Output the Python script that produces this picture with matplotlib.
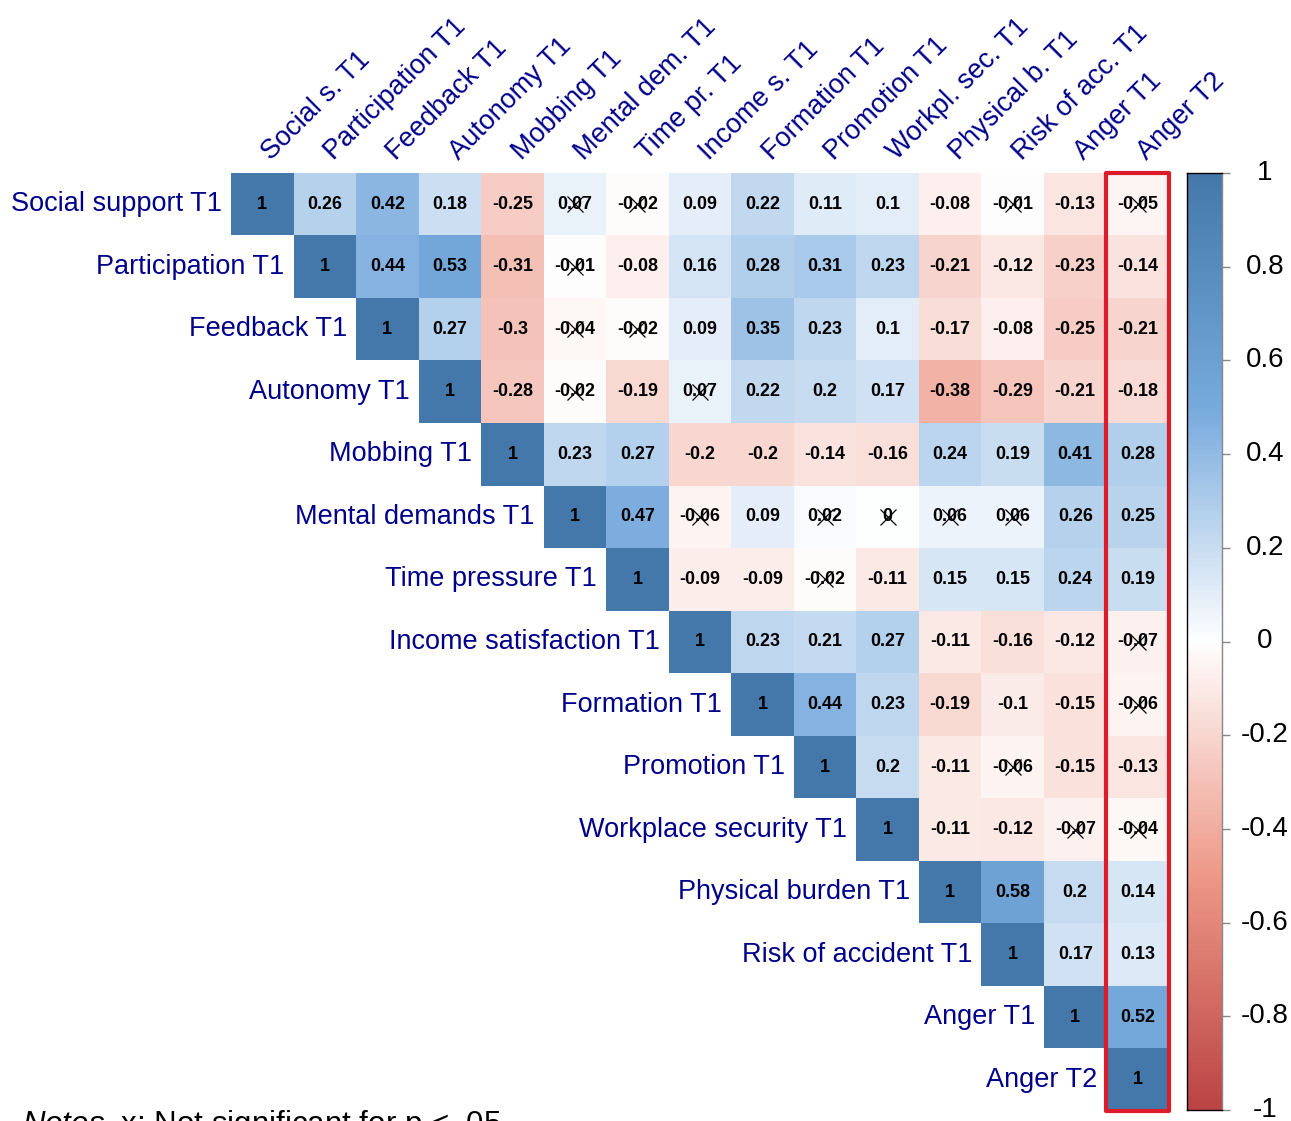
import numpy as np
import matplotlib
matplotlib.use("Agg")
import matplotlib.pyplot as plt
from matplotlib.colors import LinearSegmentedColormap
from matplotlib.patches import Rectangle
import matplotlib.transforms as mtransforms

plt.rcParams['font.family'] = ['Liberation Sans', 'DejaVu Sans']
plt.rcParams['mathtext.fontset'] = 'custom'
plt.rcParams['mathtext.it'] = 'Liberation Sans:italic'
plt.rcParams['mathtext.rm'] = 'Liberation Sans'

# ---------------- data ----------------
row_labels = ["Social support T1", "Participation T1", "Feedback T1", "Autonomy T1",
              "Mobbing T1", "Mental demands T1", "Time pressure T1",
              "Income satisfaction T1", "Formation T1", "Promotion T1",
              "Workplace security T1", "Physical burden T1", "Risk of accident T1",
              "Anger T1", "Anger T2"]
col_labels = ["Social s. T1", "Participation T1", "Feedback T1", "Autonomy T1",
              "Mobbing T1", "Mental dem. T1", "Time pr. T1", "Income s. T1",
              "Formation T1", "Promotion T1", "Workpl. sec. T1", "Physical b. T1",
              "Risk of acc. T1", "Anger T1", "Anger T2"]

# upper triangle rows (starting at the diagonal)
r_social = [1, 0.26, 0.42, 0.18, -0.25, 0.07, -0.02, 0.09, 0.22, 0.11, 0.1, -0.08, -0.01, -0.13, -0.05]
r_particip = [1, 0.44, 0.53, -0.31, -0.01, -0.08, 0.16, 0.28, 0.31, 0.23, -0.21, -0.12, -0.23, -0.14]
r_feedback = [1, 0.27, -0.3, -0.04, -0.02, 0.09, 0.35, 0.23, 0.1, -0.17, -0.08, -0.25, -0.21]
r_autonomy = [1, -0.28, -0.02, -0.19, 0.07, 0.22, 0.2, 0.17, -0.38, -0.29, -0.21, -0.18]
r_mobbing = [1, 0.23, 0.27, -0.2, -0.2, -0.14, -0.16, 0.24, 0.19, 0.41, 0.28]
r_mental = [1, 0.47, -0.06, 0.09, 0.02, 0, 0.06, 0.06, 0.26, 0.25]
r_time = [1, -0.09, -0.09, -0.02, -0.11, 0.15, 0.15, 0.24, 0.19]
r_income = [1, 0.23, 0.21, 0.27, -0.11, -0.16, -0.12, -0.07]
r_formation = [1, 0.44, 0.23, -0.19, -0.1, -0.15, -0.06]
r_promotion = [1, 0.2, -0.11, -0.06, -0.15, -0.13]
r_workpl = [1, -0.11, -0.12, -0.07, -0.04]
r_physical = [1, 0.58, 0.2, 0.14]
r_risk = [1, 0.17, 0.13]
r_anger1 = [1, 0.52]
r_anger2 = [1]
rows = [r_social, r_particip, r_feedback, r_autonomy, r_mobbing, r_mental, r_time,
        r_income, r_formation, r_promotion, r_workpl, r_physical, r_risk, r_anger1, r_anger2]

# non-significant cells (row, col)
not_significant = [(0, 5), (0, 6), (0, 12), (0, 14),
                   (1, 5), (2, 5), (2, 6), (3, 5), (3, 7),
                   (5, 7), (5, 9), (5, 10), (5, 11), (5, 12),
                   (6, 9), (7, 14), (8, 14), (9, 12), (10, 13), (10, 14)]

cbar_ticks = [1, 0.8, 0.6, 0.4, 0.2, 0, -0.2, -0.4, -0.6, -0.8, -1]

# ---------------- build ----------------
n = len(row_labels)
M = np.full((n, n), np.nan)
for i, r in enumerate(rows):
    M[i, i:i + len(r)] = r

cmap = LinearSegmentedColormap.from_list(
    "corr", ["#BB4444", "#EE9988", "#FFFFFF", "#77AADD", "#4477AA"], N=200)
cmap.set_bad((1, 1, 1, 0))

W, H = 1291, 1121
fig = plt.figure(figsize=(W / 100, H / 100), dpi=100)


def px_axes(x0, y0, x1, y1):
    return fig.add_axes([x0 / W, 1 - y1 / H, (x1 - x0) / W, (y1 - y0) / H])


gx0, gy0, gx1, gy1 = 231, 173, 1169, 1111
ax = px_axes(gx0, gy0, gx1, gy1)
cell = (gx1 - gx0) / n
ax.imshow(np.ma.masked_invalid(M), cmap=cmap, vmin=-1, vmax=1,
          extent=(0, n, n, 0), interpolation="nearest", aspect="auto")
ax.set_xlim(0, n)
ax.set_ylim(n, 0)
ax.axis("off")

label_color = "#00008B"
for i in range(n):
    for j in range(i, n):
        v = M[i, j]
        ax.text(j + 0.5, i + 0.5, f"{v:g}", ha="center", va="center",
                fontsize=12.9, fontweight="bold", color="black")
for (i, j) in not_significant:
    ax.plot(j + 0.5, i + 0.5, marker="x", markersize=11, mew=0.9,
            color="black", linestyle="none")

for i, lab in enumerate(row_labels):
    ax.text(i - 9 / cell, i + 0.5, lab, ha="right", va="center",
            fontsize=19.5, color=label_color, clip_on=False)
for j, lab in enumerate(col_labels):
    ax.text(j + 0.5 + 9 / cell, -12 / cell, lab, ha="left", va="baseline",
            rotation=45, rotation_mode="anchor",
            fontsize=19.5, color=label_color, clip_on=False)

# highlight box around last column
ax.add_patch(Rectangle((n - 1, 0), 1, n, fill=False, edgecolor="#DD1C2B",
                       linewidth=3, clip_on=False, joinstyle="round"))

# ---------------- colorbar ----------------
cax = px_axes(1187, 173, 1222, 1110)
grad = np.linspace(-1, 1, 400).reshape(-1, 1)
cax.imshow(grad, cmap=cmap, vmin=-1, vmax=1, extent=(0, 1, -1, 1),
           origin="lower", aspect="auto")
cax.set_xlim(0, 1)
cax.set_ylim(-1, 1)
cax.set_xticks([])
cax.yaxis.tick_right()
cax.set_yticks(cbar_ticks)
cax.set_yticklabels([])
cax.tick_params(axis="y", length=6, width=1, color="#888888")
for s in cax.spines.values():
    s.set_linewidth(1)
    s.set_color("black")
cax.spines["right"].set_color("#888888")
tr = mtransforms.blended_transform_factory(cax.transAxes, cax.transData)
for t in cbar_ticks:
    cax.text((1265 - 1187) / 35, t, f"{t:g}", transform=tr, ha="center",
             va="center", fontsize=20, color="black", clip_on=False)

# ---------------- notes ----------------
fig.text(22 / W, 1 - 1133 / H,
         r"$\it{Notes}$. x: Not significant for p < .05",
         ha="left", va="baseline", fontsize=22.5, color="black")

fig.savefig("out.png", dpi=100, facecolor="white")
